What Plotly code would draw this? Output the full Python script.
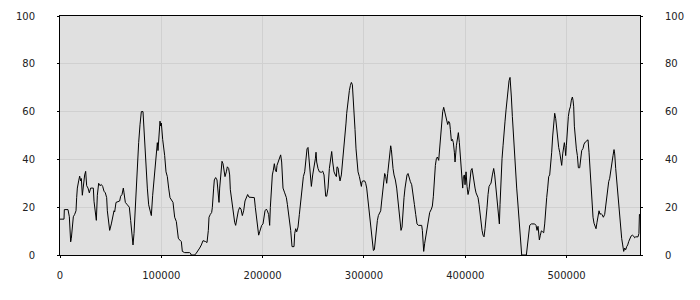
import plotly.graph_objects as go

# Series sampled along the x axis (position, value)
x_vals = [
    0, 3948, 4277, 7896, 9212, 9870, 10528, 11186, 11844, 13160, 14476, 15792, 16450, 17108, 18424, 19411,
    20398, 21056, 22043, 23030, 24346, 25333, 26320, 27636, 28952, 30268, 32900, 33558, 34874, 35861, 36848,
    38164, 39480, 40796, 42112, 43428, 44744, 46060, 46718, 48034, 49021, 50666, 52311, 53298, 53956, 55272,
    58891, 59878, 61194, 62510, 63168, 64484, 66458, 68432, 69748, 71064, 72051, 73038, 74354, 75341, 76328,
    77644, 78960, 80276, 81921, 82908, 84224, 85211, 86198, 87514, 88830, 90146, 91462, 92778, 94094, 95081,
    96068, 96726, 97713, 98700, 99358, 100016, 101332, 102648, 103306, 104622, 105938, 107254, 108570,
    111531, 113176, 114821, 115479, 116795, 118111, 119756, 120743, 123046, 127981, 128639, 129626, 132916,
    134561, 136206, 137851, 139496, 141141, 143773, 145089, 146405, 147063, 148379, 149695, 150353, 151011,
    151669, 152327, 153643, 154959, 156275, 156933, 157591, 158578, 159236, 159894, 160881, 161868, 162855,
    164171, 165158, 166474, 167461, 168119, 169106, 170093, 171409, 172396, 173383, 174699, 176015, 177331,
    178647, 179963, 181279, 182595, 183911, 185227, 186543, 190491, 191807, 192794, 193781, 195097, 196084,
    197071, 198058, 199045, 200361, 201348, 202335, 203651, 204638, 205954, 206941, 207599, 208586, 209573,
    210560, 211547, 212534, 213521, 214179, 215166, 216153, 216811, 217798, 218785, 220101,
    221779, 223424, 224411, 225727, 226714, 227701, 229017, 230991, 231649, 232636, 233623, 234939, 236255,
    237571, 238887, 240203, 241519, 242835, 243822, 244809, 245796, 247112, 248099, 249415, 250731, 252047,
    252705, 253363, 254679, 255995, 257969, 259285, 260601, 261259, 262246, 263233, 264549, 265865, 267181,
    268168, 269155, 270471, 271787, 272774, 273432, 274419, 275406, 276393, 277709, 278367, 279354, 280341,
    281328, 282315, 282973, 283960, 284618, 285605, 286592, 287579, 288566, 289224, 290211, 291198, 292185,
    293172, 294159, 295475, 296462, 297449, 298107, 299094, 300739, 301726, 302713, 304029, 305345, 306332,
    307319, 308306, 309293, 310280, 311267, 312254, 313241, 314228, 315544, 316531, 317518, 318505, 319492,
    320479, 321466, 322453, 323440, 324427, 325414, 326401, 327059, 327717, 328704, 329691, 331007, 332323,
    333639, 334955,
    336600, 337588, 338575, 339562, 340549, 341536, 342523, 343510, 344497, 345813, 347129, 348445, 349761,
    351077, 352393, 353709, 357000, 357658, 358316, 358974, 359961, 360948, 362264, 363580, 364896, 366541,
    367528, 368515, 369502, 370489, 371476, 372463, 373779, 374766, 375753, 376740, 377727, 378714, 379701,
    380688, 381675, 382662, 383649, 384636, 385294, 386281, 387268, 388255, 389242, 389900, 391216, 392203,
    393190, 394177, 395164, 396151, 396809, 397467, 398125, 399112, 399770, 400757, 401744, 402731, 403718,
    404705, 405692, 406679, 407666, 408653, 409640, 410627, 411614, 412601, 413588, 414575, 415562, 416549,
    417536, 418523, 419510, 420497, 421484, 422471, 423458, 424445, 425432, 426748, 428064, 429051, 430038,
    431025, 432012, 432999, 433657, 434315, 435302, 436289, 437276, 438263, 439250, 440237, 441224, 442211,
    443198, 444185, 444843, 445501, 446488, 447475, 448791,
    449776, 450763, 451750, 452737, 453724, 454711, 455698, 460304, 461291, 462607, 463594, 465239, 468529,
    469845, 470832, 471819, 473135, 474122, 475109, 476425, 477412, 478399, 479386, 480373, 481360, 482347,
    483334, 484321, 485308, 486295, 487282, 488269, 489256, 490243, 491230, 492217, 493204, 494191, 495178,
    496165, 497152, 497810, 498468, 499126, 499784, 500771, 501758, 502745, 503732, 504719, 505706, 506364,
    507022, 507680, 508667, 509654, 510641, 511628, 512944, 513931, 514918, 516234, 517221, 518537, 519853,
    521169, 522156, 523143, 524130, 525117, 526104, 527091, 528078, 529065, 530052, 531039, 532026, 533013,
    534000, 534987, 536303, 537619, 538606, 539593, 540580, 541567, 542554, 543541, 544528, 545844, 546831,
    547489, 548476, 549463, 550450, 551437, 552424, 553411, 554398, 555385, 556372, 557359, 558346, 559333,
    560320, 561307, 562294, 563610, 564926, 566242, 567229, 568216, 570500, 571400, 571900, 572460,
]
y_vals = [
    15, 15, 19, 19, 16, 11, 5.5, 7, 10, 16, 17, 18.5, 24, 28, 31, 33,
    31, 32, 25, 29, 33.5, 35, 29, 28, 26, 28, 28, 22.5, 17, 14.5, 25,
    30, 29, 29.5, 28.7, 26.7, 26, 24, 18.5, 14.7, 10.3, 13, 17.8, 18.5, 18, 22,
    22.6, 24.6, 25.3, 28, 26, 22, 21, 20, 14.4, 6.3, 4.2, 9, 20, 30.7, 40.3,
    47, 54.5, 60, 60, 52.5, 41.6, 32, 28, 21, 18.5, 16.5, 25, 31.4, 36.2, 41.6,
    47, 43.7, 49.8, 56, 54, 55.2, 48.4, 44.4, 41.6, 34.8, 32.8, 28, 24,
    22, 15.8, 14, 10.3, 7, 6.3, 5.6, 1.5, 1, 1, 0.8, 0, 0,
    0.8, 2.2, 2.9, 4.2, 6, 5.6, 5.2, 10.3, 15.8, 17, 17.8, 19.9, 22.6,
    28, 31.4, 32.4, 31.4, 25.3, 22, 28, 33.5, 37.5, 39.2, 38.2, 34.8, 32.8,
    34.8, 36.9, 36.2, 33.5, 27.3, 24, 19.9, 15.8, 13.7, 12.4, 15.8, 18.5, 19.9,
    19.2, 16.5, 18.5, 22.6, 24, 25.3, 24.2, 24, 24, 19.9, 15.8, 12.4, 8.3,
    9.7, 11.7, 12.4, 13, 16.5, 18.5, 19.2, 18.5, 16.9, 12.4, 19.9, 28, 33.5,
    35.5, 38.2, 35.5, 34.8, 37.5, 38.9, 40.3, 41.4, 41.9, 38.9, 28,
    26, 24, 21.2, 17, 14.4, 10.3, 3.5, 3.5, 9, 11, 9.7, 11.7, 17,
    22.6, 28, 32.8, 34.8, 39.6, 44.4, 45, 38.9, 32.8, 28.7, 33.5, 36.2, 40.3,
    43, 38.9, 36.2, 34.8, 34.6, 35.1, 33.5, 27.3, 24.6, 24.6, 28, 36.2, 40.3,
    43.3, 38.9, 34.8, 33.5, 32.8, 36.9, 36.5, 33.5, 31, 33.5, 36.2, 40.3, 47,
    51, 55.2, 59.3, 63.4, 67.5, 68.8, 70.9, 72.2, 71.3, 67.5, 60, 52.5, 44.4,
    38.9, 34.8, 32.8, 30, 28.7, 30.7, 31, 31, 30, 28, 22.6, 15.8, 11.7,
    7.6, 2.9, 1.9, 2.2, 6.3, 11.7, 14.4, 16.5, 17.8, 18.5, 22.6, 27.3, 29.4,
    34.1, 32.8, 30, 34.1, 38.9, 43, 45.7, 44.1, 40.3, 36.2, 33.5, 31.4, 28,
    22.6, 17,
    10.3, 11.7, 21.2, 24, 28, 30.7, 33.5, 34.1, 32.1, 30.7, 29.4, 26, 21.2,
    17, 13, 12.4, 12.4, 10.3, 6.9, 1.5, 4.9, 7.6, 10.3, 14.4, 17.8, 19.2,
    20.5, 24.6, 32.1, 37.5, 40.3, 41, 39.6, 44.4, 52.5, 57.3, 60, 61.8, 59.6,
    57.9, 55.9, 54.6, 55.9, 55.2, 52.5, 47.8, 48.4, 47, 43, 38.9, 45.7, 49.1,
    51.2, 47, 40.3, 35.5, 31.4, 28, 32.8, 33.5, 29.4, 34.8, 28.7, 25.3, 27.3,
    33.5, 35.5, 36.2, 32.8, 30.7, 28, 26, 25.3, 24, 21.2, 17, 13, 10.3,
    8.3, 7.6, 11, 14.4, 19.9, 25.3, 28.7, 29.4, 30.1, 33.5, 36.2, 33.5, 29.4,
    26.7, 21.2, 16.5, 13, 21.2, 32.1, 40.3, 45.7, 52.5, 56, 60.7, 64.8, 69.5,
    72.9, 74.3, 71.6, 66.1, 57.9, 49.8, 41.6,
    34.8, 28, 22.6, 15.8, 9, 3.5, 0, 0, 3.5, 7.6, 12.4, 13, 13,
    12.4, 10.3, 12, 6.3, 8.3, 10.1, 9.7, 9.3, 13, 19.9, 24, 28, 32.8,
    33.5, 37.5, 43, 49.8, 56.6, 59.3, 57.1, 52.5, 48.4, 45, 43, 39.6, 37.5,
    42.3, 44.4, 47, 45, 41.6, 45.7, 52.5, 58, 60.7, 62, 64.8, 66.1, 64.8,
    62, 53.9, 47, 44.4, 41.6, 36.5, 36.5, 41.6, 43.7, 44.6, 46.4, 47.3, 47.8,
    48.2, 43, 34.8, 28, 21.2, 15.8, 13.3, 12.4, 11, 13.7, 15.8, 18.5, 17,
    17.4, 16.9, 15.8, 17, 21.2, 25.3, 29.4, 30.7, 32.1, 35.5, 38.9, 41.6, 44.1,
    42.3, 36.2, 30.7, 25.3, 21.2, 15.8, 10.3, 6.9, 4.2, 1.5, 2.9, 2.2, 3.5,
    4.2, 5.6, 6.9, 7.9, 8.3, 7.9, 7.2, 7.6, 7.6, 9, 17, 16.5,
]

x_ticks = [0, 100000, 200000, 300000, 400000, 500000]
x_tick_labels = ["0", "100000", "200000", "300000", "400000", "500000"]
y_ticks = [0, 20, 40, 60, 80, 100]
y_tick_labels = ["0", "20", "40", "60", "80", "100"]
x_range = [0, 572460]
y_range = [0, 100]

FONT = dict(family="DejaVu Sans", size=10, color="#222222")

fig = go.Figure()
fig.add_trace(go.Scatter(x=x_vals, y=y_vals, mode="lines",
                         line=dict(color="#000000", width=1),
                         showlegend=False, hoverinfo="skip"))
# invisible copy bound to the right-hand axis so it is drawn
fig.add_trace(go.Scatter(x=x_vals, y=y_vals, mode="lines", yaxis="y2",
                         line=dict(color="rgba(0,0,0,0)", width=0),
                         showlegend=False, hoverinfo="skip"))

axis_common = dict(showline=True, linecolor="#000000", linewidth=1,
                   ticks="outside", ticklen=2, tickcolor="#000000", tickwidth=1,
                   gridcolor="#d0d0d0", gridwidth=1, zeroline=False,
                   tickfont=FONT)

fig.update_layout(
    width=700, height=300,
    margin=dict(l=60, r=60, t=10, b=45, pad=0),
    paper_bgcolor="#ffffff",
    plot_bgcolor="#e0e0e0",
    xaxis=dict(range=x_range, tickvals=x_ticks, ticktext=x_tick_labels,
               mirror=True, ticklabelstandoff=9, **axis_common),
    yaxis=dict(range=y_range, tickvals=y_ticks, ticktext=y_tick_labels,
               mirror=True, ticklabelstandoff=20, **axis_common),
    yaxis2=dict(range=y_range, tickvals=y_ticks, ticktext=y_tick_labels,
                overlaying="y", side="right", showgrid=False,
                ticklabelstandoff=20,
                **{k: v for k, v in axis_common.items() if k not in ("gridcolor", "gridwidth")}),
)

fig.write_html("out.html")
